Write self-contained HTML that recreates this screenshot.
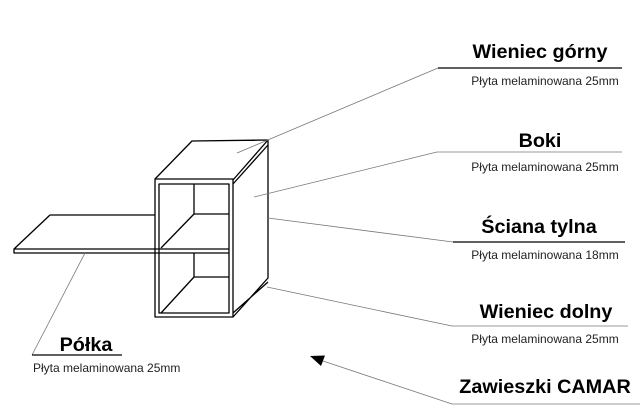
<!DOCTYPE html>
<html><head><meta charset="utf-8"><style>
html,body{margin:0;padding:0;background:#fff;}
svg{display:block;}
.t{font-family:"Liberation Sans",sans-serif;font-weight:bold;font-size:19.8px;fill:#000;}
.s{font-family:"Liberation Sans",sans-serif;font-size:12px;fill:#222;}
</style></head><body>
<svg width="640" height="417" viewBox="0 0 640 417" xmlns="http://www.w3.org/2000/svg">
<g fill="none" stroke="#000" stroke-width="1.3" stroke-linejoin="round">
<path d="M50,215 L155,215 M50,215 L14,249 L229,249 M14,249 L14,253 L229,253"/>
<rect x="155" y="179" width="78" height="138"/>
<rect x="159" y="184" width="70" height="129"/>
<path d="M155,179 L192,141 L268,140 L233,180"/>
<path d="M233,184 L268,145"/>
<path d="M268,140 L268,278 L233,317 M268,282 L233,313"/>
<path d="M194,184 L194,214 L229,214 M161,248 L194,214"/>
<path d="M194,253 L194,277 L229,277 M161,313 L194,277"/>
</g>
<g stroke="#777" stroke-width="0.8" fill="none">
<path d="M438,68 L237,153"/>
<path d="M437,152 L254,197"/>
<path d="M453,242 L268,218"/>
<path d="M452,326 L267,287"/>
<path d="M85,253 L32,355"/>
<path d="M452,404 L320,360"/>
</g>
<g stroke="#000" stroke-width="1.2">
<line x1="438" y1="68" x2="622" y2="68"/>
<line x1="453" y1="242" x2="625" y2="242"/>
<line x1="32" y1="355" x2="122" y2="355"/>
</g>
<g stroke="#999" stroke-width="1">
<line x1="437" y1="152" x2="622" y2="152"/>
<line x1="452" y1="326" x2="628" y2="326"/>
<line x1="452" y1="404" x2="640" y2="404"/>
</g>
<polygon points="310,356 325,355.5 321,366" fill="#000"/>
<text class="t" x="540" y="58" text-anchor="middle">Wieniec górny</text>
<text class="s" x="545" y="85" text-anchor="middle">Płyta melaminowana 25mm</text>
<text class="t" x="540" y="147" text-anchor="middle">Boki</text>
<text class="s" x="545" y="171" text-anchor="middle">Płyta melaminowana 25mm</text>
<text class="t" x="539" y="233" text-anchor="middle">Ściana tylna</text>
<text class="s" x="545" y="259" text-anchor="middle">Płyta melaminowana 18mm</text>
<text class="t" x="546" y="318" text-anchor="middle">Wieniec dolny</text>
<text class="s" x="545" y="343" text-anchor="middle">Płyta melaminowana 25mm</text>
<text class="t" x="545" y="393" text-anchor="middle">Zawieszki CAMAR</text>
<text class="t" x="86" y="351" text-anchor="middle">Półka</text>
<text class="s" x="33" y="372">Płyta melaminowana 25mm</text>
</svg>
</body></html>
